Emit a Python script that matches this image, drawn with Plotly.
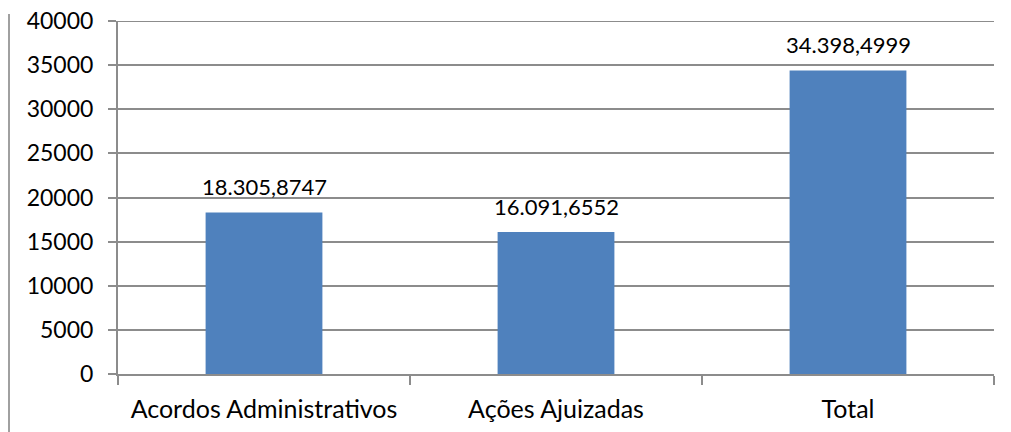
import plotly.graph_objects as go

categories = ["Acordos Administrativos", "Ações Ajuizadas", "Total"]
values = [18305.8747, 16091.6552, 34398.4999]
value_labels = ["18.305,8747", "16.091,6552", "34.398,4999"]
y_ticks = [0, 5000, 10000, 15000, 20000, 25000, 30000, 35000, 40000]

# page shows the figure offset by the 8px body margin
W, H = 1003, 424
L, R, T, B = 110, 17, 13, 58
grey = "#8c8c8c"
font = "Lato"
fs = 25

fig = go.Figure(go.Bar(
    x=categories, y=values,
    marker=dict(color="#4F81BD", line=dict(width=0)),
    width=0.4,
))
for c, v, t in zip(categories, values, value_labels):
    fig.add_annotation(x=c, y=v, text=t, showarrow=False, yanchor="bottom",
                       yshift=10, font=dict(size=22, family=font, color="#000000"))

fig.update_layout(
    width=W, height=H,
    margin=dict(l=L, r=R, t=T, b=B, autoexpand=False),
    paper_bgcolor="white", plot_bgcolor="white",
    showlegend=False,
    font=dict(family=font, size=fs, color="#000000"),
)
fig.update_xaxes(
    showline=True, linecolor=grey, linewidth=2,
    ticks="outside", ticklen=9, tickcolor=grey, tickwidth=2,
    tickson="boundaries", showgrid=False, automargin=False,
    ticklabelstandoff=12,
    tickfont=dict(size=fs, family=font, color="#000000"),
)
fig.update_yaxes(
    range=[0, max(y_ticks)], tickvals=y_ticks, ticktext=[str(v) for v in y_ticks],
    showline=True, linecolor=grey, linewidth=2,
    ticks="outside", ticklen=8, tickcolor=grey, tickwidth=2,
    showgrid=True, gridcolor=grey, gridwidth=2, zeroline=False,
    automargin=False, ticklabelstandoff=10, ticklabeloverflow="allow",
    tickfont=dict(size=23, family=font, color="#000000"),
)
# top gridline (plotly omits the grid line at the range edge)
fig.add_shape(type="line", xref="paper", yref="y", x0=0, x1=1,
              y0=max(y_ticks), y1=max(y_ticks),
              line=dict(color=grey, width=2), layer="below")
fig.add_shape(type="line", xref="paper", yref="paper",
              x0=(1 - L) / (W - L - R), x1=(1 - L) / (W - L - R),
              y0=-B / (H - T - B), y1=(H - 6 - B) / (H - T - B),
              line=dict(color="#a0a0a0", width=2))

fig.write_html("out.html")
